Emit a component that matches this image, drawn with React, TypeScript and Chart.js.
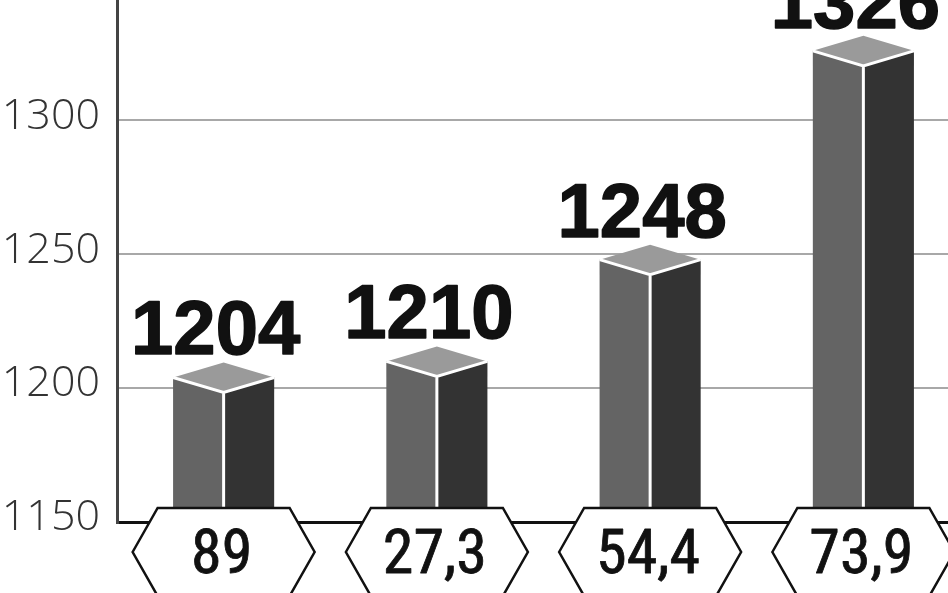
import React, { useEffect, useRef } from 'react';
import { Chart, registerables } from 'chart.js';

Chart.register(...registerables);

const categories = ['89', '27,3', '54,4', '73,9'];
const values = [1204, 1210, 1248, 1326];
const yTicks = [1150, 1200, 1250, 1300];
const yMin = 1150;
const yMax = 1345;

const prismPlugin = {
  id: 'prism',
  afterDatasetsDraw(chart: any) {
    const ctx = chart.ctx as CanvasRenderingContext2D;
    const meta = chart.getDatasetMeta(0);
    meta.data.forEach((bar: any, i: number) => {
      const { x, y, base, width } = bar.getProps(['x', 'y', 'base', 'width'], true);
      const hw = width / 2;
      const d = 15;
      const x0 = x - hw;
      const x1 = x + hw;
      ctx.save();
      // left face
      ctx.fillStyle = '#646464';
      ctx.beginPath();
      ctx.moveTo(x0, y);
      ctx.lineTo(x, y + d);
      ctx.lineTo(x, base);
      ctx.lineTo(x0, base);
      ctx.closePath();
      ctx.fill();
      // right face
      ctx.fillStyle = '#333333';
      ctx.beginPath();
      ctx.moveTo(x, y + d);
      ctx.lineTo(x1, y);
      ctx.lineTo(x1, base);
      ctx.lineTo(x, base);
      ctx.closePath();
      ctx.fill();
      // top
      ctx.fillStyle = '#9a9a9a';
      ctx.beginPath();
      ctx.moveTo(x0, y);
      ctx.lineTo(x, y - d);
      ctx.lineTo(x1, y);
      ctx.lineTo(x, y + d);
      ctx.closePath();
      ctx.fill();
      // white front edges
      ctx.strokeStyle = '#ffffff';
      ctx.lineWidth = 3;
      ctx.lineJoin = 'miter';
      ctx.beginPath();
      ctx.moveTo(x0, y);
      ctx.lineTo(x, y + d);
      ctx.lineTo(x1, y);
      ctx.moveTo(x, y + d);
      ctx.lineTo(x, base);
      ctx.stroke();
      // value label
      ctx.fillStyle = '#111111';
      ctx.strokeStyle = '#111111';
      ctx.lineWidth = 1.5;
      ctx.lineJoin = 'round';
      ctx.font = 'bold 76px "Liberation Sans", Arial, sans-serif';
      ctx.textAlign = 'center';
      ctx.textBaseline = 'alphabetic';
      ctx.fillText(String(values[i]), x - 8, y - d - 8);
      ctx.strokeText(String(values[i]), x - 8, y - d - 8);
      // hexagon label
      const hy = 552;
      const hh = 44;
      const hx = 91;
      const hi = 66;
      ctx.fillStyle = '#ffffff';
      ctx.strokeStyle = '#111111';
      ctx.lineWidth = 2.5;
      ctx.lineJoin = 'miter';
      ctx.beginPath();
      ctx.moveTo(x - hx, hy);
      ctx.lineTo(x - hi, hy - hh);
      ctx.lineTo(x + hi, hy - hh);
      ctx.lineTo(x + hx, hy);
      ctx.lineTo(x + hi, hy + hh);
      ctx.lineTo(x - hi, hy + hh);
      ctx.closePath();
      ctx.fill();
      ctx.stroke();
      ctx.fillStyle = '#111111';
      ctx.strokeStyle = '#111111';
      ctx.lineWidth = 0.8;
      ctx.lineJoin = 'round';
      ctx.font = '62px "Liberation Sans Narrow", "Roboto Condensed", Roboto, sans-serif';
      ctx.textAlign = 'center';
      ctx.textBaseline = 'alphabetic';
      ctx.fillText(categories[i], x - 2, 573);
      ctx.strokeText(categories[i], x - 2, 573);
      ctx.restore();
    });
  },
};

export default function App() {
  const ref = useRef<HTMLCanvasElement | null>(null);
  useEffect(() => {
    if (!ref.current) return;
    const chart = new Chart(ref.current, {
      type: 'bar',
      data: {
        labels: categories,
        datasets: [
          {
            data: values,
            backgroundColor: 'rgba(0,0,0,0)',
            borderWidth: 0,
            barPercentage: 0.474,
            categoryPercentage: 1,
          },
        ],
      },
      options: {
        responsive: false,
        animation: false,
        layout: { padding: { top: 0, bottom: 71, left: 0, right: 0 } },
        plugins: { legend: { display: false }, tooltip: { enabled: false } },
        scales: {
          x: { display: false, grid: { display: false } },
          y: {
            min: yMin,
            max: yMax,
            afterBuildTicks(s: any) {
              s.ticks = yTicks.map((v) => ({ value: v }));
            },
            afterFit(s: any) {
              s.width = 117;
              s.paddingTop = 0;
              s.paddingBottom = 0;
            },
            ticks: {
              font: { family: '"Open Sans", "Liberation Sans", sans-serif', size: 43, weight: '300' },
              color: '#333333',
              padding: 17,
              labelOffset: -4,
              callback: (v: any) => String(v),
            },
            grid: {
              drawTicks: false,
              color: (c: any) => (c.tick && c.tick.value === 1150 ? '#111111' : '#a8a8a8'),
              lineWidth: (c: any) => (c.tick && c.tick.value === 1150 ? 3 : 2),
            },
            border: { color: '#444444', width: 3 },
          },
        },
      },
      plugins: [prismPlugin],
    } as any);
    return () => chart.destroy();
  }, []);
  return (
    <div style={{ position: 'absolute', left: 0, top: 0, width: 948, height: 593, overflow: 'hidden', background: '#fff' }}>
      <canvas ref={ref} width={970} height={593} style={{ display: 'block' }} />
    </div>
  );
}
